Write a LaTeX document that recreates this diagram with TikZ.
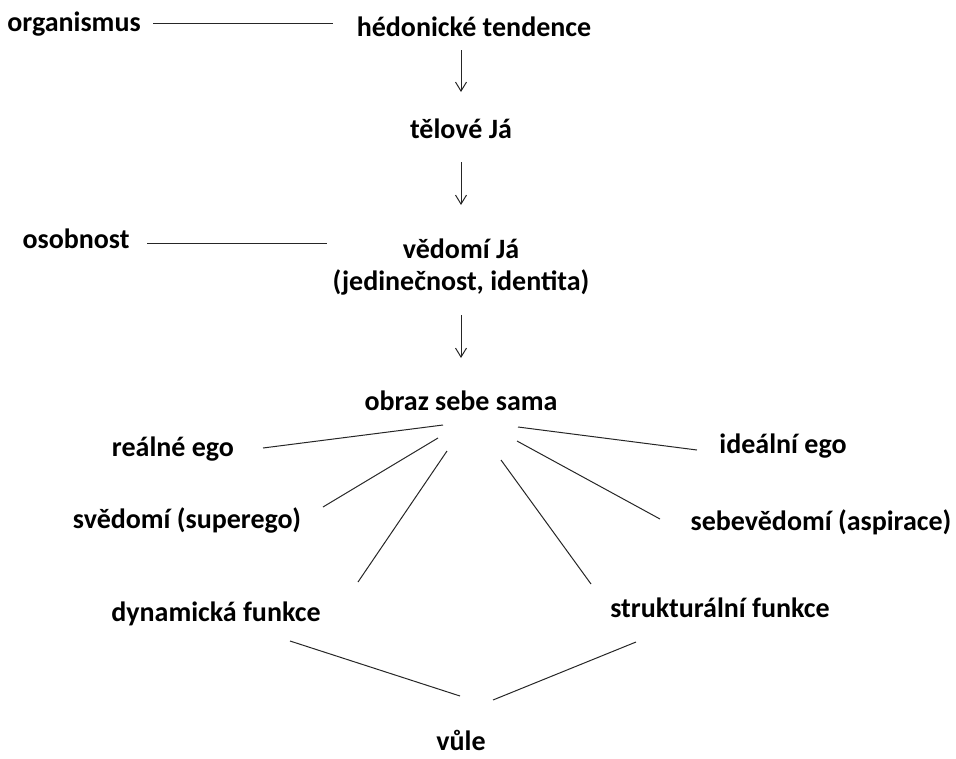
\documentclass[tikz,border=0pt]{standalone}
\usepackage{fontspec}
\setmainfont{Carlito}
\usetikzlibrary{arrows.meta}
\tikzset{
	lbl/.style = {font=\fontsize{28}{32}\selectfont\bfseries, align=center, inner sep=0pt, anchor=base},
	ln/.style = {draw=black!85, line width=1pt}
}

\begin{document}
\begin{tikzpicture}[x=1pt,y=-1pt,>={Straight Barb[length=9pt,width=11pt]}]
	\useasboundingbox (0,0) rectangle (956,758);
	% labels
	\node[lbl] (org) at (74,31) {organismus};
	\node[lbl] (hed) at (474,36) {hédonické tendence};
	\node[lbl] (tel) at (461,138) {tělové Já};
	\node[lbl] (oso) at (76,248) {osobnost};
	\node[lbl, anchor=center] (ved) at (461,267) {vědomí Já\\(jedinečnost, identita)};
	\node[lbl] (obr) at (461,410) {obraz sebe sama};
	\node[lbl] (rea) at (173,456) {reálné ego};
	\node[lbl] (ide) at (783,453) {ideální ego};
	\node[lbl] (svd) at (187,528) {svědomí (superego)};
	\node[lbl] (seb) at (821,530) {sebevědomí (aspirace)};
	\node[lbl] (dyn) at (216,621) {dynamická funkce};
	\node[lbl] (str) at (720,617) {strukturální funkce};
	\node[lbl] (vul) at (461,750) {vůle};
	% line ends
	\coordinate (org-e) at (153,23);
	\coordinate (hed-w) at (333,23);
	\coordinate (oso-e) at (147,243);
	\coordinate (ved-w) at (327,243);
	\coordinate (rea-e) at (263,448);
	\coordinate (obr-1) at (443,425);
	\coordinate (ide-w) at (697,450);
	\coordinate (obr-2) at (518,427);
	\coordinate (svd-e) at (323,507);
	\coordinate (obr-3) at (438,438);
	\coordinate (seb-w) at (660,519);
	\coordinate (obr-4) at (517,441);
	\coordinate (dyn-n) at (358,582);
	\coordinate (obr-5) at (447,451);
	\coordinate (str-n) at (591,584);
	\coordinate (obr-6) at (501,460);
	\coordinate (dyn-s) at (290,641);
	\coordinate (vul-1) at (460,696);
	\coordinate (str-s) at (636,642);
	\coordinate (vul-2) at (493,700);
	\coordinate (a1s) at (461,50);
	\coordinate (a1e) at (461,92);
	\coordinate (a2s) at (461,162);
	\coordinate (a2e) at (461,205);
	\coordinate (a3s) at (461,315);
	\coordinate (a3e) at (461,358);
	% arrows
	\draw[ln,->] (a1s) -- (a1e);
	\draw[ln,->] (a2s) -- (a2e);
	\draw[ln,->] (a3s) -- (a3e);
	% lines
	\draw[ln] (org-e) -- (hed-w);
	\draw[ln] (oso-e) -- (ved-w);
	\draw[ln] (rea-e) -- (obr-1);
	\draw[ln] (obr-2) -- (ide-w);
	\draw[ln] (svd-e) -- (obr-3);
	\draw[ln] (obr-4) -- (seb-w);
	\draw[ln] (dyn-n) -- (obr-5);
	\draw[ln] (obr-6) -- (str-n);
	\draw[ln] (dyn-s) -- (vul-1);
	\draw[ln] (vul-2) -- (str-s);
\end{tikzpicture}
\end{document}
